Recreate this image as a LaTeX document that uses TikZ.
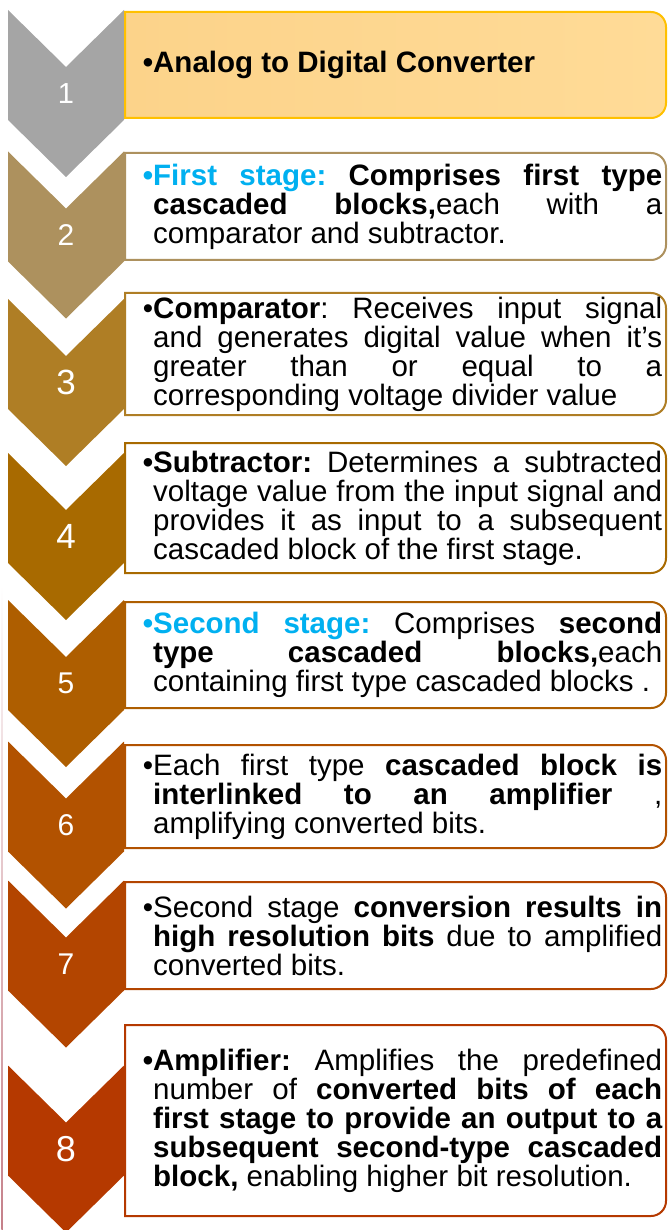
\documentclass[tikz,border=0pt]{standalone}
\usepackage{fontspec}
\setmainfont{Liberation Sans}
\definecolor{stepA}{HTML}{A5A5A5}
\definecolor{stepB}{HTML}{AD915E}
\definecolor{stepC}{HTML}{AF7E25}
\definecolor{stepD}{HTML}{A86A00}
\definecolor{stepE}{HTML}{AE5E00}
\definecolor{stepF}{HTML}{B25200}
\definecolor{stepG}{HTML}{B34500}
\definecolor{stepH}{HTML}{B53900}
\definecolor{gold}{HTML}{FFC000}
\definecolor{peachL}{HTML}{FCD38A}
\definecolor{peachR}{HTML}{FFDB97}
\definecolor{hilite}{HTML}{00B0F0}
\definecolor{sideline}{HTML}{9E2A3A}

\begin{document}
\begin{tikzpicture}[
    x=1pt,y=-1pt,
    font=\fontsize{29.5}{29}\selectfont,
    chevnum/.style={text=white,inner sep=0pt},
    frame/.style={line width=2pt,rounded corners=15pt},
    txt/.style={anchor=west,inner sep=0pt,text width=509pt,align=justify,
        execute at begin node={\frenchspacing\tolerance=10000\hbadness=10000}},
    ]
    \useasboundingbox (0,0) rectangle (667,1230);
    \shade[top color=white,middle color=sideline,bottom color=sideline!60] (1.3,585) rectangle (2.8,1230);

    \foreach \m/\c/\n/\s in {65/stepA/1/29,206.5/stepB/2/30,354/stepC/3/35,508/stepD/4/35,
                          655/stepE/5/30,796.5/stepF/6/30,935.5/stepG/7/30,1120.5/stepH/8/36}{
        \fill[\c] (8,\m-55) -- (66,\m+2) -- (124,\m-55) -- (124,\m+55)
            -- (66,\m+112) -- (8,\m+55) -- cycle;
        \node[chevnum,font=\fontsize{\s}{\s}\selectfont] (n\n) at (66,\m+28.5) {\n};
    }

    \draw[frame,gold,left color=peachL,right color=peachR] (400,12) -- (666,12) -- (666,118)
        -- (400,118) [sharp corners] -- (125,118) -- (125,12) -- cycle;
    \foreach \t/\b/\c in {153/260/stepB,293/415/stepC,443/573/stepD,602/708/stepE,
                          745/848/stepF,882/989/stepG,1025/1216/stepH}{
        \draw[frame,\c,fill=white] (400,\t) -- (666,\t) -- (666,\b)
            -- (400,\b) [sharp corners] -- (125,\b) -- (125,\t) -- cycle;
    }

    \node[txt] (t1) at (153,65) {\textbf{\llap{•}Analog to Digital Converter}};
    \node[txt] (t2) at (153,206.5) {\textbf{\llap{\textcolor{hilite}{•}}\textcolor{hilite}{First stage:} Comprises first type\linebreak
        cascaded blocks,}each with a\linebreak
        comparator and subtractor.};
    \node[txt] (t3) at (153,354) {\llap{•}\textbf{Comparator}: Receives input signal\linebreak
        and generates digital value when it's\linebreak
        greater than or equal to a\linebreak
        corresponding voltage divider value};
    \node[txt] (t4) at (153,508) {\textbf{\llap{•}Subtractor:} Determines a subtracted\linebreak
        voltage value from the input signal and\linebreak
        provides it as input to a subsequent\linebreak
        cascaded block of the first stage.};
    \node[txt] (t5) at (153,655) {\textbf{\llap{\textcolor{hilite}{•}}\textcolor{hilite}{Second stage:}} Comprises \textbf{second\linebreak
        type cascaded blocks,}each\linebreak
        containing first type cascaded blocks .};
    \node[txt] (t6) at (153,796.5) {\llap{•}Each first type \textbf{cascaded block is\linebreak
        interlinked to an amplifier} ,\linebreak
        amplifying converted bits.};
    \node[txt] (t7) at (153,935.5) {\llap{•}Second stage \textbf{conversion results in\linebreak
        high resolution bits} due to amplified\linebreak
        converted bits.};
    \node[txt] (t8) at (153,1120.5) {\textbf{\llap{•}Amplifier:} Amplifies the predefined\linebreak
        number of \textbf{converted bits of each\linebreak
        first stage to provide an output to a\linebreak
        subsequent second-type cascaded\linebreak
        block,} enabling higher bit resolution.};
\end{tikzpicture}
\end{document}
